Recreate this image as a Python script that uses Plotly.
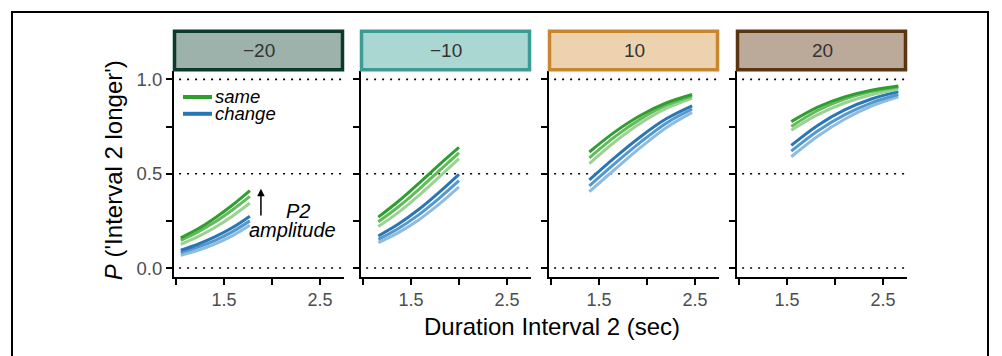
import plotly.graph_objects as go

# page has an 8px body margin: size the figure to fill the 1002x356 window
OFF = 8
W, H = 1002 - OFF, 356 - OFF

# ---------------- data ----------------
conditions = ["\u221220", "\u221210", "10", "20"]

dur_m20 = [1.05, 1.23, 1.41, 1.59, 1.77]
dur_m10 = [1.16, 1.37, 1.58, 1.79, 2.00]
dur_p10 = [1.40, 1.67, 1.94, 2.20, 2.47]
dur_p20 = [1.545, 1.82, 2.10, 2.38, 2.66]

# rows: low, mid, high P2 amplitude
same_m20 = [[0.126, 0.166, 0.216, 0.276, 0.345],
            [0.147, 0.192, 0.245, 0.309, 0.380],
            [0.160, 0.208, 0.267, 0.334, 0.410]]
change_m20 = [[0.068, 0.094, 0.128, 0.172, 0.227],
              [0.082, 0.111, 0.147, 0.193, 0.250],
              [0.094, 0.126, 0.166, 0.215, 0.275]]
same_m10 = [[0.220, 0.295, 0.384, 0.481, 0.580],
            [0.245, 0.325, 0.416, 0.514, 0.610],
            [0.270, 0.354, 0.448, 0.546, 0.640]]
change_m10 = [[0.135, 0.188, 0.255, 0.337, 0.430],
              [0.152, 0.210, 0.282, 0.368, 0.463],
              [0.170, 0.233, 0.310, 0.400, 0.497]]
same_p10 = [[0.554, 0.671, 0.770, 0.846, 0.900],
            [0.584, 0.698, 0.792, 0.863, 0.912],
            [0.615, 0.723, 0.811, 0.875, 0.920]]
change_p10 = [[0.405, 0.525, 0.642, 0.744, 0.825],
              [0.435, 0.556, 0.670, 0.768, 0.843],
              [0.467, 0.588, 0.699, 0.791, 0.860]]
same_p20 = [[0.730, 0.813, 0.875, 0.919, 0.948],
            [0.750, 0.835, 0.895, 0.935, 0.960],
            [0.776, 0.853, 0.907, 0.943, 0.965]]
change_p20 = [[0.590, 0.699, 0.789, 0.858, 0.907],
              [0.620, 0.727, 0.812, 0.876, 0.920],
              [0.650, 0.756, 0.838, 0.896, 0.935]]

x_tickvals = [1.0, 1.5, 2.0, 2.5]
x_ticktext = ["", "1.5", "", "2.5"]
y_tickvals = [0.0, 0.25, 0.5, 0.75, 1.0]
y_ticktext = ["0.0", "", "0.5", "", "1.0"]
ref_lines = [0.0, 0.5, 1.0]

# ---------------- styles ----------------
green_shades = ["#9AD294", "#62BA5B", "#2E9F2F"]
blue_shades = ["#8DBCE0", "#5598CB", "#2777B7"]
strip_fill = ["#9DB2AA", "#ABD7D3", "#EDD2AF", "#BBAA9A"]
strip_line = ["#0D3B2B", "#3A9C95", "#C8862F", "#5A3511"]
FONT = "Liberation Sans, Arial"

panel_left = [174, 361, 549, 737]
panel_w = 170
plot_top, plot_bot = 70, 278
strip_top = 28


def px(x):
    return (x - OFF) / W


def py(y):
    return 1 - (y - OFF) / H


panels = [
    (dur_m20, same_m20, change_m20),
    (dur_m10, same_m10, change_m10),
    (dur_p10, same_p10, change_p10),
    (dur_p20, same_p20, change_p20),
]

fig = go.Figure()
shapes = []
annotations = []

for i, (xs, same, change) in enumerate(panels):
    ax = "" if i == 0 else str(i + 1)
    xa, ya = "x" + ax, "y" + ax
    for k in range(3):
        fig.add_trace(go.Scatter(x=xs, y=change[k], mode="lines", xaxis=xa, yaxis=ya,
                                 line=dict(color=blue_shades[k], width=3, shape="spline"),
                                 showlegend=False, hoverinfo="skip"))
    for k in range(3):
        fig.add_trace(go.Scatter(x=xs, y=same[k], mode="lines", xaxis=xa, yaxis=ya,
                                 line=dict(color=green_shades[k], width=3, shape="spline"),
                                 showlegend=False, hoverinfo="skip"))
    x0 = panel_left[i]
    fig.update_layout(**{
        "xaxis" + ax: dict(domain=[px(x0), px(x0 + panel_w)], range=[0.98, 2.75],
                           anchor=ya, showgrid=False, zeroline=False,
                           showline=True, linecolor="black", linewidth=2,
                           ticks="outside", ticklen=6, tickwidth=2, tickcolor="black",
                           tickvals=x_tickvals, ticktext=x_ticktext,
                           tickfont=dict(size=18, color="#4D4D4D", family=FONT)),
        "yaxis" + ax: dict(domain=[py(plot_bot), py(plot_top)], range=[-0.047, 1.043],
                           anchor=xa, showgrid=False, zeroline=False,
                           showline=True, linecolor="black", linewidth=2,
                           ticks="outside", ticklen=6, tickwidth=2, tickcolor="black",
                           tickvals=y_tickvals,
                           ticktext=y_ticktext if i == 0 else [""] * len(y_tickvals),
                           tickfont=dict(size=18.5, color="#4D4D4D", family=FONT)),
    })
    for v in ref_lines:
        shapes.append(dict(type="line", xref=xa + " domain", yref=ya, x0=0.03, x1=1.0, y0=v, y1=v,
                           line=dict(color="black", width=1.6, dash="2px,6px"), layer="below"))
    # strip
    shapes.append(dict(type="rect", xref="paper", yref="paper",
                       x0=px(x0 + 0.5), x1=px(x0 + panel_w - 1.5),
                       y0=py(plot_top - 1.5), y1=py(strip_top + 1.5),
                       fillcolor=strip_fill[i], line=dict(color=strip_line[i], width=3.5)))
    annotations.append(dict(text=conditions[i], xref="paper", yref="paper",
                            x=px(x0 + panel_w / 2), y=py((strip_top + plot_top) / 2),
                            showarrow=False, xanchor="center", yanchor="middle",
                            font=dict(size=19, color="#333333", family=FONT)))

# legend (manual, inside first panel)
for yy, col, lab in [(96, green_shades[2], "same"), (113, blue_shades[2], "change")]:
    shapes.append(dict(type="line", xref="paper", yref="paper", x0=px(183), x1=px(212),
                       y0=py(yy), y1=py(yy), line=dict(color=col, width=4)))
    annotations.append(dict(text="<i>" + lab + "</i>", xref="paper", yref="paper",
                            x=px(214), y=py(yy), showarrow=False, xanchor="left", yanchor="middle",
                            borderpad=0,
                            font=dict(size=18.5, color="black", family=FONT)))

# P2 amplitude annotation
annotations.append(dict(text="", x=1.885, y=0.42, ax=1.885, ay=0.27, xref="x", yref="y",
                        axref="x", ayref="y", showarrow=True, arrowhead=2, arrowsize=1,
                        arrowwidth=1.5, arrowcolor="black"))
annotations.append(dict(text="<i>P2</i>", x=2.27, y=0.30, xref="x", yref="y", showarrow=False,
                        borderpad=0, font=dict(size=20, color="black", family=FONT)))
annotations.append(dict(text="<i>amplitude</i>", x=2.215, y=0.20, xref="x", yref="y", showarrow=False,
                        borderpad=0, font=dict(size=20, color="black", family=FONT)))

# axis titles
annotations.append(dict(text="<i>P</i> ('Interval 2 longer')", xref="paper", yref="paper",
                        x=px(113), y=py(170), textangle=-90, showarrow=False,
                        xanchor="center", yanchor="middle",
                        font=dict(size=24, color="black", family=FONT)))
annotations.append(dict(text="Duration Interval 2 (sec)", xref="paper", yref="paper",
                        x=px(552), y=py(328), showarrow=False, xanchor="center", yanchor="middle",
                        borderpad=0,
                        font=dict(size=24, color="black", family=FONT)))

# outer frame
shapes.append(dict(type="rect", xref="paper", yref="paper", x0=px(12), x1=px(988),
                   y0=-0.1, y1=py(10), line=dict(color="black", width=2)))

fig.update_layout(width=W, height=H, margin=dict(l=0, r=0, t=0, b=0), autosize=False,
                  plot_bgcolor="white", paper_bgcolor="white",
                  shapes=shapes, annotations=annotations, showlegend=False,
                  font=dict(family=FONT))

fig.write_html("out.html")
